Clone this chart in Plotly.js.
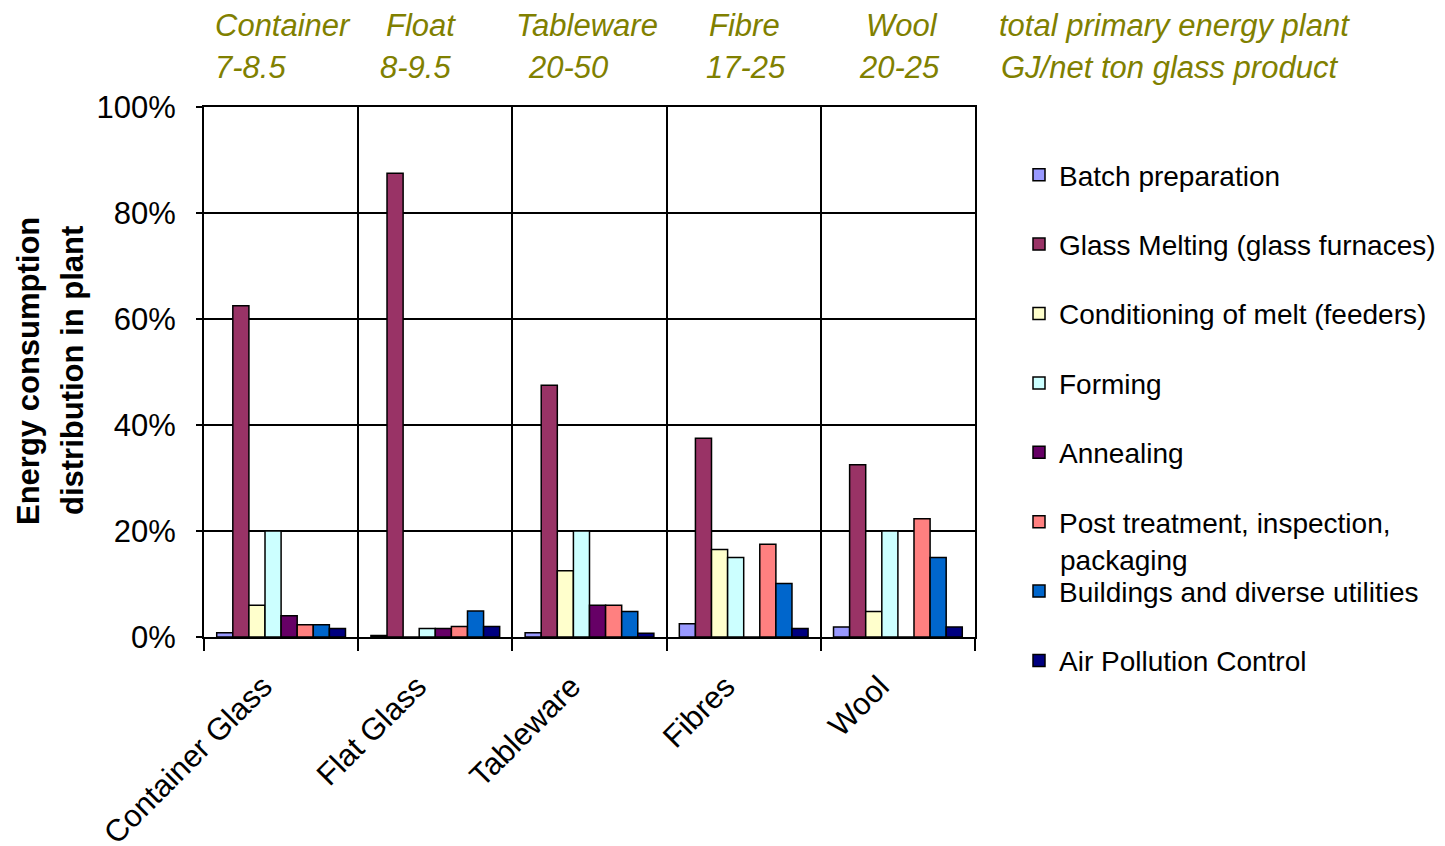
<!DOCTYPE html>
<html>
<head>
<meta charset="utf-8">
<script src="https://cdn.plot.ly/plotly-3.0.1.min.js"></script>
<style>html,body{margin:0;padding:0;background:#fff;}#chart{width:1445px;height:846px;}</style>
</head>
<body>
<div id="chart"></div>
<script>
const categories = ["Container Glass", "Flat Glass", "Tableware", "Fibres", "Wool"];
const seriesNames = ["Batch preparation", "Glass Melting (glass furnaces)", "Conditioning of melt (feeders)", "Forming", "Annealing", "Post treatment, inspection,", "Buildings and diverse utilities", "Air Pollution Control"];
const batchPreparation = [0.8, 0.3, 0.8, 2.5, 1.9];
const glassMelting = [62.5, 87.5, 47.5, 37.5, 32.5];
const conditioning = [6, 0, 12.5, 16.5, 4.8];
const forming = [20, 1.6, 20, 15, 20];
const annealing = [4, 1.6, 6, 0, 0];
const postTreatment = [2.3, 2, 6, 17.5, 22.3];
const buildings = [2.3, 4.9, 4.8, 10.1, 15];
const airPollution = [1.6, 2, 0.7, 1.6, 1.9];
const topLabels = ["Container", "Float", "Tableware", "Fibre", "Wool", "total primary energy plant"];
const topRanges = ["7-8.5", "8-9.5", "20-50", "17-25", "20-25", "GJ/net ton glass product"];
const colors = ["#9999FF", "#993366", "#FFFFCC", "#CCFFFF", "#660066", "#FF8080", "#0066CC", "#000080"];

const values = [batchPreparation, glassMelting, conditioning, forming, annealing, postTreatment, buildings, airPollution];
const FONT = "Liberation Sans, Arial, sans-serif";

const traces = values.map((v, i) => ({
  type: "bar",
  name: seriesNames[i],
  x: categories,
  y: v,
  legendgroup: "g" + i,
  marker: {color: colors[i], line: {color: "#000", width: 1.5}},
  hoverinfo: "x+y+name"
}));

// plot area: x 204..975, y 107..637
const W = 1445, H = 846;
const L = 204, R = 975, T = 107, B = 637;
const px = p => (p - L) / (R - L);
const py = p => (B - p) / (B - T);

const topX1 = [213, 384, 514, 707, 864, 997];
const topX2 = [213, 378, 526, 704, 857, 999];
const annotations = [];
topLabels.forEach((t, i) => {
  annotations.push({text: t, xref: "paper", yref: "paper", x: px(topX1[i]), y: py(26), xanchor: "left", yanchor: "middle", showarrow: false, font: {family: FONT, size: 31, color: "#808000", style: "italic"}});
});
topRanges.forEach((t, i) => {
  annotations.push({text: t, xref: "paper", yref: "paper", x: px(topX2[i]), y: py(67), xanchor: "left", yanchor: "middle", showarrow: false, font: {family: FONT, size: 31, color: "#808000", style: "italic"}});
});
annotations.push({text: "Energy consumption", xref: "paper", yref: "paper", x: px(28), y: py(371), xanchor: "center", yanchor: "middle", textangle: -90, showarrow: false, font: {family: FONT, size: 31, color: "#000", weight: "bold"}});
annotations.push({text: "distribution in plant", xref: "paper", yref: "paper", x: px(72), y: py(371), xanchor: "center", yanchor: "middle", textangle: -90, showarrow: false, font: {family: FONT, size: 31, color: "#000", weight: "bold"}});
annotations.push({text: "packaging", xref: "paper", yref: "paper", x: px(1058), y: py(560), xanchor: "left", yanchor: "middle", showarrow: false, font: {family: FONT, size: 28, color: "#000"}});

const layout = {
  width: W, height: H,
  margin: {l: L, r: W - R, t: T, b: H - B, autoexpand: false},
  paper_bgcolor: "#fff", plot_bgcolor: "#fff",
  font: {family: FONT, size: 28, color: "#000"},
  barmode: "group", bargap: 0.165, bargroupgap: 0,
  showlegend: true,
  legend: {xref: "container", yref: "container", x: 1019 / W, y: 1 - 150 / H, xanchor: "left", yanchor: "top",
           maxheight: 700, tracegroupgap: 30, font: {family: FONT, size: 28, color: "#000"}, bgcolor: "rgba(0,0,0,0)"},
  xaxis: {type: "category", tickson: "boundaries", showgrid: true, gridcolor: "#000", gridwidth: 1.5,
          showline: true, linecolor: "#000", linewidth: 2, mirror: true,
          ticks: "outside", ticklen: 12, tickwidth: 2, tickcolor: "#000", ticklabelstandoff: 17, ticklabelshift: -18,
          tickangle: -45, tickfont: {family: FONT, size: 31, color: "#000"}, automargin: false},
  yaxis: {range: [0, 100], dtick: 20, ticksuffix: "%", showgrid: true, gridcolor: "#000", gridwidth: 1.5,
          showline: true, linecolor: "#000", linewidth: 2, mirror: true, zeroline: false,
          ticks: "outside", ticklen: 6, tickwidth: 2, tickcolor: "#000", ticklabelstandoff: 14,
          tickfont: {family: FONT, size: 31, color: "#000"}, automargin: false},
  annotations: annotations
};

Plotly.newPlot("chart", traces, layout, {displayModeBar: false, responsive: false});
</script>
</body>
</html>
